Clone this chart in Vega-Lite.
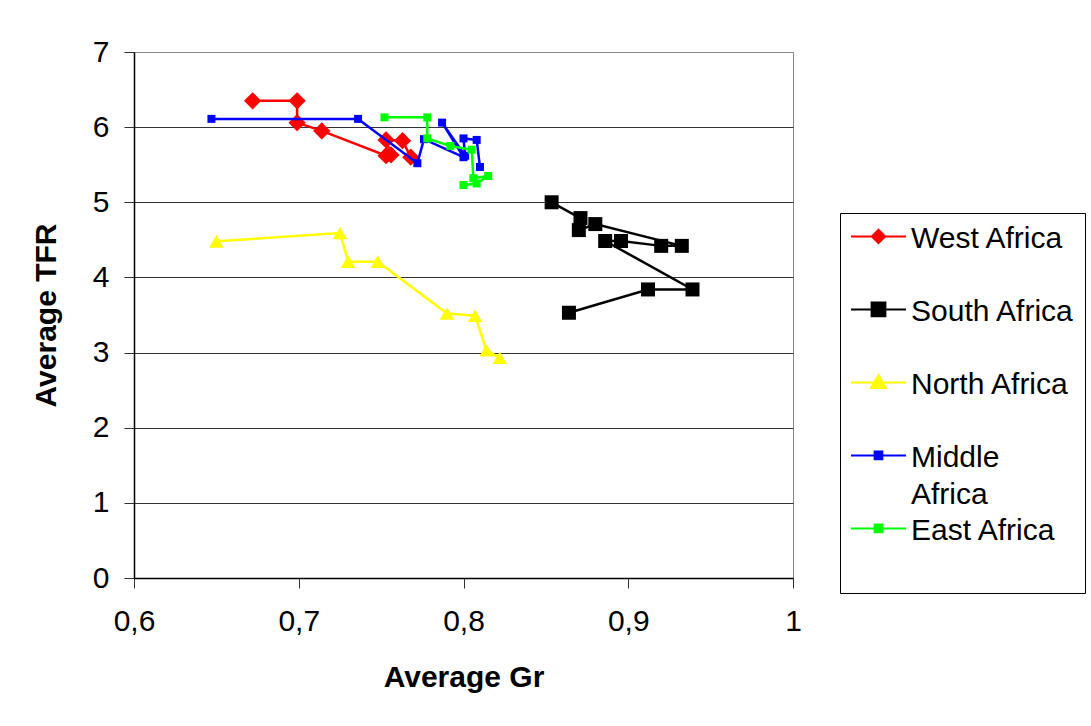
{
  "$schema": "https://vega.github.io/schema/vega-lite/v6.json",
  "width": 659,
  "height": 526,
  "autosize": {"type": "none"},
  "padding": {"left": 134, "top": 52, "right": 298, "bottom": 148},
  "background": "white",
  "config": {
    "font": "Liberation Sans",
    "view": {"stroke": "#888888", "strokeWidth": 1},
    "axis": {
      "labelFont": "Liberation Sans",
      "titleFont": "Liberation Sans",
      "labelFontSize": 30,
      "titleFontSize": 30,
      "titleFontWeight": "bold",
      "labelColor": "#000000",
      "titleColor": "#000000",
      "domainColor": "#000000",
      "tickColor": "#333333",
      "tickSize": 10,
      "domainWidth": 1.5,
      "labelFlush": false,
      "labelOverlap": false
    },
    "legend": {
      "labelFont": "Liberation Sans",
      "labelFontSize": 30,
      "labelColor": "#000000"
    }
  },
  "data": {
    "values": [
      {"Region": "West Africa", "seq": 1, "Gr": 0.672, "TFR": 6.35},
      {"Region": "West Africa", "seq": 2, "Gr": 0.699, "TFR": 6.35},
      {"Region": "West Africa", "seq": 3, "Gr": 0.699, "TFR": 6.06},
      {"Region": "West Africa", "seq": 4, "Gr": 0.714, "TFR": 5.95},
      {"Region": "West Africa", "seq": 5, "Gr": 0.753, "TFR": 5.62},
      {"Region": "West Africa", "seq": 6, "Gr": 0.756, "TFR": 5.63},
      {"Region": "West Africa", "seq": 7, "Gr": 0.753, "TFR": 5.83},
      {"Region": "West Africa", "seq": 8, "Gr": 0.763, "TFR": 5.82},
      {"Region": "West Africa", "seq": 9, "Gr": 0.768, "TFR": 5.6},
      {"Region": "South Africa", "seq": 1, "Gr": 0.8535, "TFR": 5.0},
      {"Region": "South Africa", "seq": 2, "Gr": 0.871, "TFR": 4.79},
      {"Region": "South Africa", "seq": 3, "Gr": 0.87, "TFR": 4.63},
      {"Region": "South Africa", "seq": 4, "Gr": 0.88, "TFR": 4.71},
      {"Region": "South Africa", "seq": 5, "Gr": 0.9325, "TFR": 4.42},
      {"Region": "South Africa", "seq": 6, "Gr": 0.92, "TFR": 4.42},
      {"Region": "South Africa", "seq": 7, "Gr": 0.8956, "TFR": 4.485},
      {"Region": "South Africa", "seq": 8, "Gr": 0.886, "TFR": 4.485},
      {"Region": "South Africa", "seq": 9, "Gr": 0.939, "TFR": 3.84},
      {"Region": "South Africa", "seq": 10, "Gr": 0.912, "TFR": 3.84},
      {"Region": "South Africa", "seq": 11, "Gr": 0.864, "TFR": 3.53},
      {"Region": "North Africa", "seq": 1, "Gr": 0.65, "TFR": 4.48},
      {"Region": "North Africa", "seq": 2, "Gr": 0.725, "TFR": 4.59},
      {"Region": "North Africa", "seq": 3, "Gr": 0.73, "TFR": 4.21},
      {"Region": "North Africa", "seq": 4, "Gr": 0.748, "TFR": 4.21},
      {"Region": "North Africa", "seq": 5, "Gr": 0.79, "TFR": 3.52},
      {"Region": "North Africa", "seq": 6, "Gr": 0.807, "TFR": 3.49},
      {"Region": "North Africa", "seq": 7, "Gr": 0.814, "TFR": 3.03},
      {"Region": "North Africa", "seq": 8, "Gr": 0.822, "TFR": 2.93},
      {"Region": "Middle Africa", "seq": 1, "Gr": 0.647, "TFR": 6.11},
      {"Region": "Middle Africa", "seq": 2, "Gr": 0.736, "TFR": 6.11},
      {"Region": "Middle Africa", "seq": 3, "Gr": 0.772, "TFR": 5.52},
      {"Region": "Middle Africa", "seq": 4, "Gr": 0.776, "TFR": 5.84},
      {"Region": "Middle Africa", "seq": 5, "Gr": 0.8, "TFR": 5.6},
      {"Region": "Middle Africa", "seq": 6, "Gr": 0.787, "TFR": 6.06},
      {"Region": "Middle Africa", "seq": 7, "Gr": 0.801, "TFR": 5.62},
      {"Region": "Middle Africa", "seq": 8, "Gr": 0.8, "TFR": 5.85},
      {"Region": "Middle Africa", "seq": 9, "Gr": 0.808, "TFR": 5.83},
      {"Region": "Middle Africa", "seq": 10, "Gr": 0.81, "TFR": 5.47},
      {"Region": "East Africa", "seq": 1, "Gr": 0.752, "TFR": 6.13},
      {"Region": "East Africa", "seq": 2, "Gr": 0.778, "TFR": 6.13},
      {"Region": "East Africa", "seq": 3, "Gr": 0.778, "TFR": 5.85},
      {"Region": "East Africa", "seq": 4, "Gr": 0.792, "TFR": 5.75},
      {"Region": "East Africa", "seq": 5, "Gr": 0.805, "TFR": 5.7},
      {"Region": "East Africa", "seq": 6, "Gr": 0.806, "TFR": 5.32},
      {"Region": "East Africa", "seq": 7, "Gr": 0.815, "TFR": 5.35},
      {"Region": "East Africa", "seq": 8, "Gr": 0.808, "TFR": 5.25},
      {"Region": "East Africa", "seq": 9, "Gr": 0.8, "TFR": 5.23}
    ]
  },
  "encoding": {
    "x": {
      "field": "Gr",
      "type": "quantitative",
      "scale": {"domain": [0.6, 1.0], "nice": false, "zero": false},
      "axis": {
        "title": "Average Gr",
        "values": [0.6, 0.7, 0.8, 0.9, 1.0],
        "labelExpr": "replace(format(datum.value, '~g'), '.', ',')",
        "grid": false,
        "labelPadding": 18,
        "titlePadding": 26
      }
    },
    "y": {
      "field": "TFR",
      "type": "quantitative",
      "scale": {"domain": [0, 7], "nice": false},
      "axis": {
        "title": "Average TFR",
        "values": [0, 1, 2, 3, 4, 5, 6, 7],
        "grid": true,
        "gridColor": {"condition": {"test": "datum.value == 7", "value": "#888888"}, "value": "#333333"},
        "gridWidth": 1,
        "labelPadding": 15,
        "titlePadding": 31
      }
    },
    "order": {"field": "seq", "type": "quantitative"}
  },
  "layer": [
    {"transform": [{"filter": {"field": "Region", "equal": "West Africa"}}], "mark": {"type": "line", "color": "#FF0000", "strokeWidth": 2.5}},
    {"transform": [{"filter": {"field": "Region", "equal": "West Africa"}}], "mark": {"type": "point", "shape": "diamond", "filled": true, "color": "#FF0000", "size": 300, "opacity": 1}},
    {"transform": [{"filter": {"field": "Region", "equal": "South Africa"}}], "mark": {"type": "line", "color": "#000000", "strokeWidth": 2.5}},
    {"transform": [{"filter": {"field": "Region", "equal": "South Africa"}}], "mark": {"type": "point", "shape": "square", "filled": true, "color": "#000000", "size": 196, "opacity": 1}},
    {"transform": [{"filter": {"field": "Region", "equal": "North Africa"}}], "mark": {"type": "line", "color": "#FFFF00", "strokeWidth": 2.5}},
    {"transform": [{"filter": {"field": "Region", "equal": "North Africa"}}], "mark": {"type": "point", "shape": "triangle-up", "filled": true, "color": "#FFFF00", "size": 210, "opacity": 1}},
    {"transform": [{"filter": {"field": "Region", "equal": "Middle Africa"}}], "mark": {"type": "line", "color": "#0000FF", "strokeWidth": 2.5}},
    {"transform": [{"filter": {"field": "Region", "equal": "Middle Africa"}}], "mark": {"type": "point", "shape": "square", "filled": true, "color": "#0000FF", "size": 64, "opacity": 1}},
    {"transform": [{"filter": {"field": "Region", "equal": "East Africa"}}], "mark": {"type": "line", "color": "#00FF00", "strokeWidth": 2.5}},
    {"transform": [{"filter": {"field": "Region", "equal": "East Africa"}}], "mark": {"type": "point", "shape": "square", "filled": true, "color": "#00FF00", "size": 64, "opacity": 1}},
    {
      "transform": [{"filter": "datum.seq < 0"}],
      "mark": {"type": "point", "filled": true, "strokeWidth": 2, "opacity": 1},
      "encoding": {
        "fill": {
          "field": "Region",
          "type": "nominal",
          "title": null,
          "scale": {
            "domain": ["West Africa", "South Africa", "North Africa", "Middle Africa", "East Africa"],
            "range": ["#FF0000", "#000000", "#FFFF00", "#0000FF", "#00FF00"]
          },
          "legend": {
            "orient": "none",
            "legendX": 706,
            "legendY": 161,
            "strokeColor": "#000000",
            "fillColor": "#FFFFFF",
            "padding": 10,
            "symbolSize": 3025,
            "symbolStrokeWidth": 2,
            "symbolOpacity": 1,
            "rowPadding": 5,
            "labelOffset": 4,
            "labelLimit": 400,
            "labelBaseline": "top",
            "labelExpr": "datum.label == 'Middle Africa' ? ['Middle', 'Africa'] : [datum.label, '']",
            "encode": {
              "labels": {
                "update": {
                  "dy": {"value": -28},
                  "lineHeight": {"value": 37}
                }
              }
            }
          }
        },
        "stroke": {
          "field": "Region",
          "type": "nominal",
          "title": null,
          "scale": {
            "domain": ["West Africa", "South Africa", "North Africa", "Middle Africa", "East Africa"],
            "range": ["#FF0000", "#000000", "#FFFF00", "#0000FF", "#00FF00"]
          }
        },
        "shape": {
          "field": "Region",
          "type": "nominal",
          "title": null,
          "scale": {
            "domain": ["West Africa", "South Africa", "North Africa", "Middle Africa", "East Africa"],
            "range": [
              "M-1,-0.55H1M0,-0.79L0.24,-0.55L0,-0.31L-0.24,-0.55Z",
              "M-1,-0.55H1M-0.25,-0.8H0.25V-0.3H-0.25Z",
              "M-1,-0.55H1M0,-0.82L0.27,-0.35H-0.27Z",
              "M-1,-0.55H1M-0.14,-0.69H0.14V-0.41H-0.14Z",
              "M-1,-0.55H1M-0.14,-0.69H0.14V-0.41H-0.14Z"
            ]
          }
        }
      }
    }
  ]
}
